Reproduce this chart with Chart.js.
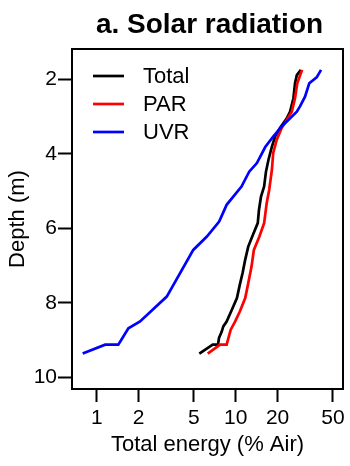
<!DOCTYPE html>
<html>
<head>
<meta charset="utf-8">
<script src="https://cdn.jsdelivr.net/npm/chart.js@4"></script>
<style>
  body { margin: 0; background: #fff; }
</style>
</head>
<body>
<canvas id="myChart" width="350" height="466"></canvas>
<script>
// depth (m) and energy (% of air)
const totalDepth = [1.75, 1.89, 2.11, 2.51, 2.87, 3.05, 3.31, 3.54, 3.81, 4.16, 4.48, 4.88, 5.15, 5.5, 5.86, 6.17, 6.49, 6.84, 7.2, 7.51, 7.87, 8.19, 8.5, 8.63, 8.77, 8.94, 9.12, 9.12, 9.36];
const totalEnergy = [29.4, 27.5, 26.7, 26.0, 24.6, 23.3, 20.8, 19.2, 18.2, 17.2, 16.5, 16.0, 15.2, 14.7, 14.4, 13.3, 12.3, 11.7, 11.2, 10.7, 10.2, 9.36, 8.6, 8.14, 7.93, 7.58, 7.45, 6.83, 5.47];

const parDepth = [1.75, 2.11, 2.51, 2.87, 3.09, 3.31, 3.63, 3.98, 4.43, 4.97, 5.32, 5.86, 6.22, 6.58, 7.02, 7.47, 7.87, 8.23, 8.5, 8.72, 9.12, 9.12, 9.36];
const parEnergy = [30.0, 27.7, 26.7, 25.3, 23.3, 21.4, 19.7, 18.6, 18.2, 17.4, 16.7, 16.0, 14.8, 13.5, 13.0, 12.3, 11.7, 10.7, 9.89, 9.2, 8.6, 7.71, 6.29];

const uvrDepth = [1.75, 1.95, 2.11, 2.47, 2.73, 2.87, 3.05, 3.27, 3.54, 3.82, 4.25, 4.48, 4.88, 5.37, 5.82, 6.22, 6.58, 7.83, 8.5, 8.68, 9.12, 9.12, 9.36];
const uvrEnergy = [41.1, 38.2, 33.8, 31.5, 29.0, 27.5, 24.6, 21.4, 18.6, 16.3, 14.2, 12.5, 11.0, 8.6, 7.6, 6.2, 4.95, 3.19, 2.05, 1.69, 1.43, 1.15, 0.793];

const xTicks = [1, 2, 5, 10, 20, 50];
const yTicks = [2, 4, 6, 8, 10];

function pairs(depth, energy) {
  return depth.map((d, i) => ({ x: energy[i], y: d }));
}

Chart.defaults.font.family = "'Liberation Sans', Arial, Helvetica, sans-serif";
Chart.defaults.color = "#000";

// box around the plot, R style
const frame = {
  id: "frame",
  afterDatasetsDraw(chart) {
    const a = chart.chartArea;
    const ctx = chart.ctx;
    ctx.save();
    ctx.strokeStyle = "#000";
    ctx.lineWidth = 2;
    ctx.strokeRect(a.left, a.top, a.right - a.left, a.bottom - a.top);
    ctx.restore();
  },
};

// legend inside the plot (top left) and the title over the plot
const extras = {
  id: "extras",
  afterDraw(chart) {
    const a = chart.chartArea;
    const ctx = chart.ctx;
    ctx.save();
    ctx.fillStyle = "#000";
    ctx.font = "bold 28px 'Liberation Sans', Arial, sans-serif";
    ctx.textAlign = "center";
    ctx.textBaseline = "alphabetic";
    ctx.fillText("a. Solar radiation", (a.left + a.right) / 2 + 2, 33);

    ctx.font = "22px 'Liberation Sans', Arial, sans-serif";
    ctx.textAlign = "left";
    ctx.textBaseline = "middle";
    chart.data.datasets.forEach((ds, i) => {
      const y = a.top + 27 + i * 28;
      ctx.strokeStyle = ds.borderColor;
      ctx.lineWidth = ds.borderWidth;
      ctx.beginPath();
      ctx.moveTo(a.left + 21, y);
      ctx.lineTo(a.left + 52, y);
      ctx.stroke();
      ctx.fillText(ds.label, a.left + 71, y + 1);
    });
    ctx.restore();
  },
};

const config = {
  type: "line",
  data: {
    datasets: [
      {
        label: "Total",
        data: pairs(totalDepth, totalEnergy),
        borderColor: "#000000",
        borderWidth: 2.7,
        pointRadius: 0,
        order: 2,
      },
      {
        label: "PAR",
        data: pairs(parDepth, parEnergy),
        borderColor: "#ff0000",
        borderWidth: 2.7,
        pointRadius: 0,
        order: 1,
      },
      {
        label: "UVR",
        data: pairs(uvrDepth, uvrEnergy),
        borderColor: "#0000ff",
        borderWidth: 2.7,
        pointRadius: 0,
        order: 0,
      },
    ],
  },
  options: {
    responsive: false,
    devicePixelRatio: 1,
    animation: false,
    layout: {
      padding: { top: 49, right: 7, left: 0, bottom: 0 },
    },
    plugins: {
      legend: { display: false },
      title: { display: false },
      tooltip: { enabled: false },
    },
    scales: {
      x: {
        type: "logarithmic",
        min: 0.664,
        max: 59.1,
        afterBuildTicks: (scale) => {
          scale.ticks = xTicks.map((v) => ({ value: v }));
        },
        afterFit: (scale) => {
          scale.height = 77;
        },
        border: { display: false },
        grid: {
          drawOnChartArea: false,
          drawTicks: true,
          tickLength: 13,
          tickWidth: 2,
          tickColor: "#000",
        },
        ticks: {
          autoSkip: false,
          maxRotation: 0,
          padding: 4,
          font: { size: 21 },
          callback: (v) => String(v),
        },
        title: {
          display: true,
          text: "Total energy (% Air)",
          font: { size: 22 },
          padding: { top: 0, bottom: 8 },
        },
      },
      y: {
        type: "linear",
        reverse: true,
        min: 1.19,
        max: 10.31,
        afterBuildTicks: (scale) => {
          scale.ticks = yTicks.map((v) => ({ value: v }));
        },
        afterFit: (scale) => {
          scale.width = 72;
        },
        border: { display: false },
        grid: {
          drawOnChartArea: false,
          drawTicks: true,
          tickLength: 14,
          tickWidth: 2,
          tickColor: "#000",
        },
        ticks: {
          padding: 1,
          font: { size: 21 },
          callback: (v) => String(v),
        },
        title: {
          display: true,
          text: "Depth (m)",
          font: { size: 22 },
          padding: { top: 5, bottom: 0 },
        },
      },
    },
  },
  plugins: [frame, extras],
};

var ctx = document.getElementById("myChart").getContext("2d");
var myChart = new Chart(ctx, config);
</script>
</body>
</html>
